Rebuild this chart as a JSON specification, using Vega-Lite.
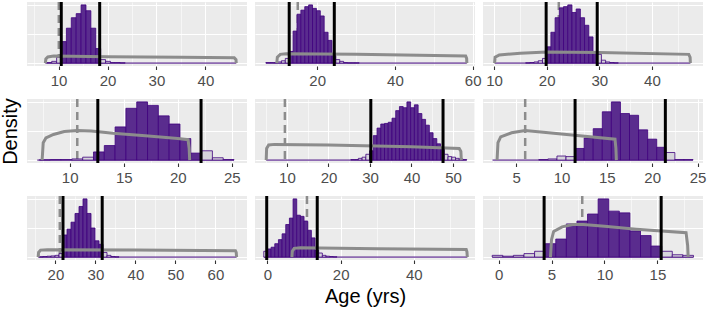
{
  "$schema": "https://vega.github.io/schema/vega-lite/v6.json",
  "padding": {"left": 0, "top": 0, "right": 2, "bottom": 0},
  "background": "#FFFFFF",
  "data": {"values": [
    {"panel":1,"kind":"bin","x":7.6,"x2":8.6,"y":0.01,"inside":false},
    {"panel":1,"kind":"bin","x":8.6,"x2":9.6,"y":0.03,"inside":false},
    {"panel":1,"kind":"bin","x":9.6,"x2":10.6,"y":0.1,"inside":false},
    {"panel":1,"kind":"bin","x":10.6,"x2":11.6,"y":0.37,"inside":true},
    {"panel":1,"kind":"bin","x":11.6,"x2":12.6,"y":0.6,"inside":true},
    {"panel":1,"kind":"bin","x":12.6,"x2":13.6,"y":0.78,"inside":true},
    {"panel":1,"kind":"bin","x":13.6,"x2":14.6,"y":0.85,"inside":true},
    {"panel":1,"kind":"bin","x":14.6,"x2":15.6,"y":1.0,"inside":true},
    {"panel":1,"kind":"bin","x":15.6,"x2":16.6,"y":0.9,"inside":true},
    {"panel":1,"kind":"bin","x":16.6,"x2":17.6,"y":0.6,"inside":true},
    {"panel":1,"kind":"bin","x":17.6,"x2":18.6,"y":0.25,"inside":true},
    {"panel":1,"kind":"bin","x":18.6,"x2":19.6,"y":0.06,"inside":false},
    {"panel":1,"kind":"bin","x":19.6,"x2":20.6,"y":0.03,"inside":false},
    {"panel":1,"kind":"bin","x":20.6,"x2":21.6,"y":0.01,"inside":false},
    {"panel":1,"kind":"bin","x":21.6,"x2":22.6,"y":0.01,"inside":false},
    {"panel":1,"kind":"bin","x":22.6,"x2":23.6,"y":0.005,"inside":false},
    {"panel":1,"kind":"prior","x":7.3,"y":0},
    {"panel":1,"kind":"prior","x":7.4,"y":0.07},
    {"panel":1,"kind":"prior","x":7.8,"y":0.105},
    {"panel":1,"kind":"prior","x":9,"y":0.12},
    {"panel":1,"kind":"prior","x":20,"y":0.11},
    {"panel":1,"kind":"prior","x":35,"y":0.1},
    {"panel":1,"kind":"prior","x":45.9,"y":0.09},
    {"panel":1,"kind":"prior","x":46.25,"y":0.06},
    {"panel":1,"kind":"prior","x":46.3,"y":0},
    {"panel":1,"kind":"ref","x":10.05},
    {"panel":1,"kind":"bound","x":10.55},
    {"panel":1,"kind":"bound","x":18.4},
    {"panel":1,"kind":"base","x":7.3,"x2":46.3,"y":0},

    {"panel":2,"kind":"bin","x":6.8,"x2":7.8,"y":0.01,"inside":false},
    {"panel":2,"kind":"bin","x":7.8,"x2":8.8,"y":0.01,"inside":false},
    {"panel":2,"kind":"bin","x":8.8,"x2":9.8,"y":0.01,"inside":false},
    {"panel":2,"kind":"bin","x":9.8,"x2":10.8,"y":0.02,"inside":false},
    {"panel":2,"kind":"bin","x":10.8,"x2":11.8,"y":0.04,"inside":false},
    {"panel":2,"kind":"bin","x":11.8,"x2":12.8,"y":0.08,"inside":false},
    {"panel":2,"kind":"bin","x":12.8,"x2":13.8,"y":0.2,"inside":true},
    {"panel":2,"kind":"bin","x":13.8,"x2":14.8,"y":0.55,"inside":true},
    {"panel":2,"kind":"bin","x":14.8,"x2":15.8,"y":0.84,"inside":true},
    {"panel":2,"kind":"bin","x":15.8,"x2":16.8,"y":0.91,"inside":true},
    {"panel":2,"kind":"bin","x":16.8,"x2":17.8,"y":0.97,"inside":true},
    {"panel":2,"kind":"bin","x":17.8,"x2":18.8,"y":1.0,"inside":true},
    {"panel":2,"kind":"bin","x":18.8,"x2":19.8,"y":0.94,"inside":true},
    {"panel":2,"kind":"bin","x":19.8,"x2":20.8,"y":0.9,"inside":true},
    {"panel":2,"kind":"bin","x":20.8,"x2":21.8,"y":0.81,"inside":true},
    {"panel":2,"kind":"bin","x":21.8,"x2":22.8,"y":0.53,"inside":true},
    {"panel":2,"kind":"bin","x":22.8,"x2":23.8,"y":0.39,"inside":true},
    {"panel":2,"kind":"bin","x":23.8,"x2":24.8,"y":0.13,"inside":true},
    {"panel":2,"kind":"bin","x":24.8,"x2":25.8,"y":0.06,"inside":false},
    {"panel":2,"kind":"bin","x":25.8,"x2":26.8,"y":0.03,"inside":false},
    {"panel":2,"kind":"bin","x":26.8,"x2":27.8,"y":0.01,"inside":false},
    {"panel":2,"kind":"bin","x":27.8,"x2":28.8,"y":0.005,"inside":false},
    {"panel":2,"kind":"bin","x":28.8,"x2":29.8,"y":0.005,"inside":false},
    {"panel":2,"kind":"bin","x":29.8,"x2":30.8,"y":0.005,"inside":false},
    {"panel":2,"kind":"prior","x":9.6,"y":0},
    {"panel":2,"kind":"prior","x":9.75,"y":0.1},
    {"panel":2,"kind":"prior","x":10.5,"y":0.15},
    {"panel":2,"kind":"prior","x":12,"y":0.16},
    {"panel":2,"kind":"prior","x":30,"y":0.15},
    {"panel":2,"kind":"prior","x":58.2,"y":0.12},
    {"panel":2,"kind":"prior","x":58.45,"y":0.08},
    {"panel":2,"kind":"prior","x":58.5,"y":0},
    {"panel":2,"kind":"ref","x":15.0},
    {"panel":2,"kind":"bound","x":12.8},
    {"panel":2,"kind":"bound","x":24.4},
    {"panel":2,"kind":"base","x":6.8,"x2":58.5,"y":0},

    {"panel":3,"kind":"bin","x":16.0,"x2":16.8,"y":0.005,"inside":false},
    {"panel":3,"kind":"bin","x":16.8,"x2":17.6,"y":0.01,"inside":false},
    {"panel":3,"kind":"bin","x":17.6,"x2":18.4,"y":0.02,"inside":false},
    {"panel":3,"kind":"bin","x":18.4,"x2":19.2,"y":0.04,"inside":false},
    {"panel":3,"kind":"bin","x":19.2,"x2":20.0,"y":0.08,"inside":false},
    {"panel":3,"kind":"bin","x":20.0,"x2":20.8,"y":0.28,"inside":true},
    {"panel":3,"kind":"bin","x":20.8,"x2":21.6,"y":0.53,"inside":true},
    {"panel":3,"kind":"bin","x":21.6,"x2":22.4,"y":0.78,"inside":true},
    {"panel":3,"kind":"bin","x":22.4,"x2":23.2,"y":0.95,"inside":true},
    {"panel":3,"kind":"bin","x":23.2,"x2":24.0,"y":0.97,"inside":true},
    {"panel":3,"kind":"bin","x":24.0,"x2":24.8,"y":1.0,"inside":true},
    {"panel":3,"kind":"bin","x":24.8,"x2":25.6,"y":0.87,"inside":true},
    {"panel":3,"kind":"bin","x":25.6,"x2":26.4,"y":0.93,"inside":true},
    {"panel":3,"kind":"bin","x":26.4,"x2":27.2,"y":0.78,"inside":true},
    {"panel":3,"kind":"bin","x":27.2,"x2":28.0,"y":0.65,"inside":true},
    {"panel":3,"kind":"bin","x":28.0,"x2":28.8,"y":0.45,"inside":true},
    {"panel":3,"kind":"bin","x":28.8,"x2":29.6,"y":0.2,"inside":true},
    {"panel":3,"kind":"bin","x":29.6,"x2":30.4,"y":0.15,"inside":false},
    {"panel":3,"kind":"bin","x":30.4,"x2":31.2,"y":0.05,"inside":false},
    {"panel":3,"kind":"bin","x":31.2,"x2":32.0,"y":0.02,"inside":false},
    {"panel":3,"kind":"bin","x":32.0,"x2":32.8,"y":0.01,"inside":false},
    {"panel":3,"kind":"bin","x":32.8,"x2":33.6,"y":0.005,"inside":false},
    {"panel":3,"kind":"prior","x":10.1,"y":0},
    {"panel":3,"kind":"prior","x":10.2,"y":0.1},
    {"panel":3,"kind":"prior","x":11,"y":0.14},
    {"panel":3,"kind":"prior","x":15,"y":0.17},
    {"panel":3,"kind":"prior","x":20,"y":0.19},
    {"panel":3,"kind":"prior","x":30,"y":0.18},
    {"panel":3,"kind":"prior","x":47.0,"y":0.15},
    {"panel":3,"kind":"prior","x":47.25,"y":0.1},
    {"panel":3,"kind":"prior","x":47.3,"y":0},
    {"panel":3,"kind":"ref","x":22.3},
    {"panel":3,"kind":"bound","x":19.9},
    {"panel":3,"kind":"bound","x":29.6},
    {"panel":3,"kind":"base","x":10.1,"x2":47.3,"y":0},

    {"panel":4,"kind":"bin","x":7.2,"x2":8.2,"y":0.005,"inside":false},
    {"panel":4,"kind":"bin","x":8.2,"x2":9.2,"y":0.01,"inside":false},
    {"panel":4,"kind":"bin","x":9.2,"x2":10.2,"y":0.01,"inside":false},
    {"panel":4,"kind":"bin","x":10.2,"x2":11.2,"y":0.02,"inside":false},
    {"panel":4,"kind":"bin","x":11.2,"x2":12.2,"y":0.05,"inside":false},
    {"panel":4,"kind":"bin","x":12.2,"x2":13.2,"y":0.14,"inside":true},
    {"panel":4,"kind":"bin","x":13.2,"x2":14.2,"y":0.25,"inside":true},
    {"panel":4,"kind":"bin","x":14.2,"x2":15.2,"y":0.57,"inside":true},
    {"panel":4,"kind":"bin","x":15.2,"x2":16.2,"y":0.89,"inside":true},
    {"panel":4,"kind":"bin","x":16.2,"x2":17.2,"y":1.0,"inside":true},
    {"panel":4,"kind":"bin","x":17.2,"x2":18.2,"y":0.94,"inside":true},
    {"panel":4,"kind":"bin","x":18.2,"x2":19.2,"y":0.76,"inside":true},
    {"panel":4,"kind":"bin","x":19.2,"x2":20.2,"y":0.62,"inside":true},
    {"panel":4,"kind":"bin","x":20.2,"x2":21.2,"y":0.37,"inside":true},
    {"panel":4,"kind":"bin","x":21.2,"x2":22.2,"y":0.12,"inside":true},
    {"panel":4,"kind":"bin","x":22.2,"x2":23.2,"y":0.16,"inside":false},
    {"panel":4,"kind":"bin","x":23.2,"x2":24.2,"y":0.04,"inside":false},
    {"panel":4,"kind":"bin","x":24.2,"x2":25.2,"y":0.01,"inside":false},
    {"panel":4,"kind":"prior","x":7.45,"y":0},
    {"panel":4,"kind":"prior","x":7.55,"y":0.3},
    {"panel":4,"kind":"prior","x":7.8,"y":0.38},
    {"panel":4,"kind":"prior","x":8.5,"y":0.44},
    {"panel":4,"kind":"prior","x":9.5,"y":0.49},
    {"panel":4,"kind":"prior","x":10.7,"y":0.51},
    {"panel":4,"kind":"prior","x":12,"y":0.5},
    {"panel":4,"kind":"prior","x":14,"y":0.46},
    {"panel":4,"kind":"prior","x":17,"y":0.42},
    {"panel":4,"kind":"prior","x":20,"y":0.37},
    {"panel":4,"kind":"prior","x":20.95,"y":0.35},
    {"panel":4,"kind":"prior","x":21.05,"y":0.2},
    {"panel":4,"kind":"prior","x":21.1,"y":0},
    {"panel":4,"kind":"ref","x":10.7},
    {"panel":4,"kind":"bound","x":12.6},
    {"panel":4,"kind":"bound","x":22.15},
    {"panel":4,"kind":"base","x":7.0,"x2":25.2,"y":0},

    {"panel":5,"kind":"bin","x":25.4,"x2":26.3,"y":0.01,"inside":false},
    {"panel":5,"kind":"bin","x":26.3,"x2":27.2,"y":0.01,"inside":false},
    {"panel":5,"kind":"bin","x":27.2,"x2":28.1,"y":0.03,"inside":false},
    {"panel":5,"kind":"bin","x":28.1,"x2":29.0,"y":0.05,"inside":false},
    {"panel":5,"kind":"bin","x":29.0,"x2":29.9,"y":0.1,"inside":false},
    {"panel":5,"kind":"bin","x":29.9,"x2":30.8,"y":0.16,"inside":true},
    {"panel":5,"kind":"bin","x":30.8,"x2":31.7,"y":0.42,"inside":true},
    {"panel":5,"kind":"bin","x":31.7,"x2":32.6,"y":0.55,"inside":true},
    {"panel":5,"kind":"bin","x":32.6,"x2":33.5,"y":0.62,"inside":true},
    {"panel":5,"kind":"bin","x":33.5,"x2":34.4,"y":0.63,"inside":true},
    {"panel":5,"kind":"bin","x":34.4,"x2":35.3,"y":0.65,"inside":true},
    {"panel":5,"kind":"bin","x":35.3,"x2":36.2,"y":0.72,"inside":true},
    {"panel":5,"kind":"bin","x":36.2,"x2":37.1,"y":0.85,"inside":true},
    {"panel":5,"kind":"bin","x":37.1,"x2":38.0,"y":0.92,"inside":true},
    {"panel":5,"kind":"bin","x":38.0,"x2":38.9,"y":0.9,"inside":true},
    {"panel":5,"kind":"bin","x":38.9,"x2":39.8,"y":1.0,"inside":true},
    {"panel":5,"kind":"bin","x":39.8,"x2":40.7,"y":0.9,"inside":true},
    {"panel":5,"kind":"bin","x":40.7,"x2":41.6,"y":0.95,"inside":true},
    {"panel":5,"kind":"bin","x":41.6,"x2":42.5,"y":0.8,"inside":true},
    {"panel":5,"kind":"bin","x":42.5,"x2":43.4,"y":0.7,"inside":true},
    {"panel":5,"kind":"bin","x":43.4,"x2":44.3,"y":0.6,"inside":true},
    {"panel":5,"kind":"bin","x":44.3,"x2":45.2,"y":0.47,"inside":true},
    {"panel":5,"kind":"bin","x":45.2,"x2":46.1,"y":0.37,"inside":true},
    {"panel":5,"kind":"bin","x":46.1,"x2":47.0,"y":0.28,"inside":true},
    {"panel":5,"kind":"bin","x":47.0,"x2":47.9,"y":0.2,"inside":true},
    {"panel":5,"kind":"bin","x":47.9,"x2":48.8,"y":0.1,"inside":false},
    {"panel":5,"kind":"bin","x":48.8,"x2":49.7,"y":0.06,"inside":false},
    {"panel":5,"kind":"bin","x":49.7,"x2":50.6,"y":0.05,"inside":false},
    {"panel":5,"kind":"bin","x":50.6,"x2":51.5,"y":0.03,"inside":false},
    {"panel":5,"kind":"bin","x":51.5,"x2":52.4,"y":0.02,"inside":false},
    {"panel":5,"kind":"bin","x":52.4,"x2":53.3,"y":0.01,"inside":false},
    {"panel":5,"kind":"prior","x":5.0,"y":0},
    {"panel":5,"kind":"prior","x":5.1,"y":0.2},
    {"panel":5,"kind":"prior","x":5.6,"y":0.26},
    {"panel":5,"kind":"prior","x":7,"y":0.27},
    {"panel":5,"kind":"prior","x":20,"y":0.26},
    {"panel":5,"kind":"prior","x":40,"y":0.23},
    {"panel":5,"kind":"prior","x":51.5,"y":0.2},
    {"panel":5,"kind":"prior","x":51.9,"y":0.15},
    {"panel":5,"kind":"prior","x":52,"y":0},
    {"panel":5,"kind":"ref","x":9.5},
    {"panel":5,"kind":"bound","x":30.2},
    {"panel":5,"kind":"bound","x":47.6},
    {"panel":5,"kind":"base","x":5.0,"x2":53.3,"y":0},

    {"panel":6,"kind":"bin","x":7.5,"x2":8.5,"y":0.01,"inside":false},
    {"panel":6,"kind":"bin","x":8.5,"x2":9.5,"y":0.02,"inside":false},
    {"panel":6,"kind":"bin","x":9.5,"x2":10.5,"y":0.07,"inside":false},
    {"panel":6,"kind":"bin","x":10.5,"x2":11.5,"y":0.06,"inside":false},
    {"panel":6,"kind":"bin","x":11.5,"x2":12.5,"y":0.2,"inside":true},
    {"panel":6,"kind":"bin","x":12.5,"x2":13.5,"y":0.38,"inside":true},
    {"panel":6,"kind":"bin","x":13.5,"x2":14.5,"y":0.54,"inside":true},
    {"panel":6,"kind":"bin","x":14.5,"x2":15.5,"y":0.83,"inside":true},
    {"panel":6,"kind":"bin","x":15.5,"x2":16.5,"y":1.0,"inside":true},
    {"panel":6,"kind":"bin","x":16.5,"x2":17.5,"y":0.8,"inside":true},
    {"panel":6,"kind":"bin","x":17.5,"x2":18.5,"y":0.77,"inside":true},
    {"panel":6,"kind":"bin","x":18.5,"x2":19.5,"y":0.52,"inside":true},
    {"panel":6,"kind":"bin","x":19.5,"x2":20.5,"y":0.36,"inside":true},
    {"panel":6,"kind":"bin","x":20.5,"x2":21.5,"y":0.22,"inside":true},
    {"panel":6,"kind":"bin","x":21.5,"x2":22.5,"y":0.13,"inside":false},
    {"panel":6,"kind":"bin","x":22.5,"x2":23.5,"y":0.01,"inside":false},
    {"panel":6,"kind":"bin","x":23.5,"x2":24.5,"y":0.01,"inside":false},
    {"panel":6,"kind":"prior","x":2.9,"y":0},
    {"panel":6,"kind":"prior","x":3.0,"y":0.3},
    {"panel":6,"kind":"prior","x":3.3,"y":0.4},
    {"panel":6,"kind":"prior","x":4.5,"y":0.47},
    {"panel":6,"kind":"prior","x":6,"y":0.51},
    {"panel":6,"kind":"prior","x":8,"y":0.48},
    {"panel":6,"kind":"prior","x":12,"y":0.42},
    {"panel":6,"kind":"prior","x":15.9,"y":0.36},
    {"panel":6,"kind":"prior","x":16.0,"y":0.2},
    {"panel":6,"kind":"prior","x":16.05,"y":0},
    {"panel":6,"kind":"ref","x":6.0},
    {"panel":6,"kind":"bound","x":11.5},
    {"panel":6,"kind":"bound","x":21.45},
    {"panel":6,"kind":"base","x":2.4,"x2":24.5,"y":0},

    {"panel":7,"kind":"bin","x":15.9,"x2":16.9,"y":0.005,"inside":false},
    {"panel":7,"kind":"bin","x":16.9,"x2":17.9,"y":0.01,"inside":false},
    {"panel":7,"kind":"bin","x":17.9,"x2":18.9,"y":0.015,"inside":false},
    {"panel":7,"kind":"bin","x":18.9,"x2":19.9,"y":0.02,"inside":false},
    {"panel":7,"kind":"bin","x":19.9,"x2":20.9,"y":0.03,"inside":false},
    {"panel":7,"kind":"bin","x":20.9,"x2":21.9,"y":0.06,"inside":false},
    {"panel":7,"kind":"bin","x":21.9,"x2":22.9,"y":0.38,"inside":true},
    {"panel":7,"kind":"bin","x":22.9,"x2":23.9,"y":0.48,"inside":true},
    {"panel":7,"kind":"bin","x":23.9,"x2":24.9,"y":0.6,"inside":true},
    {"panel":7,"kind":"bin","x":24.9,"x2":25.9,"y":0.75,"inside":true},
    {"panel":7,"kind":"bin","x":25.9,"x2":26.9,"y":0.87,"inside":true},
    {"panel":7,"kind":"bin","x":26.9,"x2":27.9,"y":1.0,"inside":true},
    {"panel":7,"kind":"bin","x":27.9,"x2":28.9,"y":0.75,"inside":true},
    {"panel":7,"kind":"bin","x":28.9,"x2":29.9,"y":0.5,"inside":true},
    {"panel":7,"kind":"bin","x":29.9,"x2":30.9,"y":0.28,"inside":true},
    {"panel":7,"kind":"bin","x":30.9,"x2":31.9,"y":0.22,"inside":true},
    {"panel":7,"kind":"bin","x":31.9,"x2":32.9,"y":0.08,"inside":false},
    {"panel":7,"kind":"bin","x":32.9,"x2":33.9,"y":0.03,"inside":false},
    {"panel":7,"kind":"bin","x":33.9,"x2":34.9,"y":0.01,"inside":false},
    {"panel":7,"kind":"bin","x":34.9,"x2":35.9,"y":0.005,"inside":false},
    {"panel":7,"kind":"prior","x":15.7,"y":0},
    {"panel":7,"kind":"prior","x":15.8,"y":0.08},
    {"panel":7,"kind":"prior","x":16.3,"y":0.12},
    {"panel":7,"kind":"prior","x":18,"y":0.125},
    {"panel":7,"kind":"prior","x":40,"y":0.12},
    {"panel":7,"kind":"prior","x":65,"y":0.11},
    {"panel":7,"kind":"prior","x":65.2,"y":0.08},
    {"panel":7,"kind":"prior","x":65.3,"y":0},
    {"panel":7,"kind":"ref","x":21.1},
    {"panel":7,"kind":"bound","x":21.9},
    {"panel":7,"kind":"bound","x":31.7},
    {"panel":7,"kind":"base","x":15.7,"x2":65.3,"y":0},

    {"panel":8,"kind":"bin","x":-1,"x2":0,"y":0.1,"inside":false},
    {"panel":8,"kind":"bin","x":0,"x2":1,"y":0.14,"inside":true},
    {"panel":8,"kind":"bin","x":1,"x2":2,"y":0.17,"inside":true},
    {"panel":8,"kind":"bin","x":2,"x2":3,"y":0.23,"inside":true},
    {"panel":8,"kind":"bin","x":3,"x2":4,"y":0.3,"inside":true},
    {"panel":8,"kind":"bin","x":4,"x2":5,"y":0.4,"inside":true},
    {"panel":8,"kind":"bin","x":5,"x2":6,"y":0.56,"inside":true},
    {"panel":8,"kind":"bin","x":6,"x2":7,"y":0.67,"inside":true},
    {"panel":8,"kind":"bin","x":7,"x2":8,"y":1.0,"inside":true},
    {"panel":8,"kind":"bin","x":8,"x2":9,"y":0.72,"inside":true},
    {"panel":8,"kind":"bin","x":9,"x2":10,"y":0.7,"inside":true},
    {"panel":8,"kind":"bin","x":10,"x2":11,"y":0.62,"inside":true},
    {"panel":8,"kind":"bin","x":11,"x2":12,"y":0.46,"inside":true},
    {"panel":8,"kind":"bin","x":12,"x2":13,"y":0.33,"inside":true},
    {"panel":8,"kind":"bin","x":13,"x2":14,"y":0.12,"inside":true},
    {"panel":8,"kind":"bin","x":14,"x2":15,"y":0.07,"inside":false},
    {"panel":8,"kind":"bin","x":15,"x2":16,"y":0.03,"inside":false},
    {"panel":8,"kind":"bin","x":16,"x2":17,"y":0.015,"inside":false},
    {"panel":8,"kind":"bin","x":17,"x2":18,"y":0.01,"inside":false},
    {"panel":8,"kind":"bin","x":18,"x2":19,"y":0.005,"inside":false},
    {"panel":8,"kind":"prior","x":6.7,"y":0},
    {"panel":8,"kind":"prior","x":6.8,"y":0.1},
    {"panel":8,"kind":"prior","x":7.3,"y":0.15},
    {"panel":8,"kind":"prior","x":9,"y":0.16},
    {"panel":8,"kind":"prior","x":30,"y":0.145},
    {"panel":8,"kind":"prior","x":54.3,"y":0.13},
    {"panel":8,"kind":"prior","x":54.5,"y":0.09},
    {"panel":8,"kind":"prior","x":54.6,"y":0},
    {"panel":8,"kind":"ref","x":10.8},
    {"panel":8,"kind":"bound","x":-0.2},
    {"panel":8,"kind":"bound","x":13.6},
    {"panel":8,"kind":"base","x":-1,"x2":54.6,"y":0},

    {"panel":9,"kind":"bin","x":-0.6,"x2":0.4,"y":0.03,"inside":false},
    {"panel":9,"kind":"bin","x":0.4,"x2":1.4,"y":0.015,"inside":false},
    {"panel":9,"kind":"bin","x":1.4,"x2":2.4,"y":0.03,"inside":false},
    {"panel":9,"kind":"bin","x":2.4,"x2":3.4,"y":0.06,"inside":false},
    {"panel":9,"kind":"bin","x":3.4,"x2":4.4,"y":0.1,"inside":false},
    {"panel":9,"kind":"bin","x":4.4,"x2":5.4,"y":0.23,"inside":true},
    {"panel":9,"kind":"bin","x":5.4,"x2":6.4,"y":0.31,"inside":true},
    {"panel":9,"kind":"bin","x":6.4,"x2":7.4,"y":0.57,"inside":true},
    {"panel":9,"kind":"bin","x":7.4,"x2":8.4,"y":0.62,"inside":true},
    {"panel":9,"kind":"bin","x":8.4,"x2":9.4,"y":0.74,"inside":true},
    {"panel":9,"kind":"bin","x":9.4,"x2":10.4,"y":1.0,"inside":true},
    {"panel":9,"kind":"bin","x":10.4,"x2":11.4,"y":0.79,"inside":true},
    {"panel":9,"kind":"bin","x":11.4,"x2":12.4,"y":0.76,"inside":true},
    {"panel":9,"kind":"bin","x":12.4,"x2":13.4,"y":0.45,"inside":true},
    {"panel":9,"kind":"bin","x":13.4,"x2":14.4,"y":0.37,"inside":true},
    {"panel":9,"kind":"bin","x":14.4,"x2":15.4,"y":0.19,"inside":true},
    {"panel":9,"kind":"bin","x":15.4,"x2":16.4,"y":0.1,"inside":false},
    {"panel":9,"kind":"bin","x":16.4,"x2":17.4,"y":0.04,"inside":false},
    {"panel":9,"kind":"bin","x":17.4,"x2":18.4,"y":0.03,"inside":false},
    {"panel":9,"kind":"prior","x":4.9,"y":0},
    {"panel":9,"kind":"prior","x":5.0,"y":0.3},
    {"panel":9,"kind":"prior","x":5.2,"y":0.44},
    {"panel":9,"kind":"prior","x":6,"y":0.52},
    {"panel":9,"kind":"prior","x":7,"y":0.56},
    {"panel":9,"kind":"prior","x":8,"y":0.56},
    {"panel":9,"kind":"prior","x":10,"y":0.53},
    {"panel":9,"kind":"prior","x":13,"y":0.48},
    {"panel":9,"kind":"prior","x":17.7,"y":0.42},
    {"panel":9,"kind":"prior","x":17.85,"y":0.2},
    {"panel":9,"kind":"prior","x":17.9,"y":0},
    {"panel":9,"kind":"ref","x":7.9},
    {"panel":9,"kind":"bound","x":4.3},
    {"panel":9,"kind":"bound","x":15.35},
    {"panel":9,"kind":"base","x":-0.6,"x2":18.4,"y":0}
  ]},
  "columns": 3,
  "align": "each",
  "bounds": "flush",
  "spacing": {"row": 33, "column": 8},
  "concat": [
    {
      "width": 220, "height": 64,
      "transform": [{"filter": "datum.panel === 1"}],
      "encoding": {"x": {"field": "x", "type": "quantitative", "title": null,
        "scale": {"domain": [3.55, 48.5], "nice": false, "zero": false},
        "axis": {"values": [5, 10, 15, 20, 25, 30, 35, 40, 45],
          "labelExpr": "datum.value % 10 === 0 ? datum.label : ''",
          "tickOpacity": {"condition": {"test": "datum.value % 10 === 0", "value": 1}, "value": 0},
          "gridWidth": {"condition": {"test": "datum.value % 10 === 0", "value": 1.1}, "value": 0.55}}}},
      "layer": [
        {"transform": [{"filter": "datum.kind === 'ref'"}], "mark": {"type": "rule", "color": "#8C8C8C", "strokeWidth": 2.5, "strokeDash": [8, 5]}, "encoding": {}},
        {"transform": [{"filter": "datum.kind === 'base'"}], "mark": {"type": "rule", "color": "#3F007D", "strokeWidth": 1}, "encoding": {"x2": {"field": "x2"}, "y": {"field": "y", "type": "quantitative", "title": null, "scale": {"domain": [-0.05, 1.05], "nice": false, "zero": false}}}},
        {"transform": [{"filter": "datum.kind === 'bin'"}], "mark": {"type": "rect", "stroke": "#3F007D", "strokeWidth": 0.8}, "encoding": {"x2": {"field": "x2"}, "y": {"field": "y", "type": "quantitative", "title": null, "scale": {"domain": [-0.05, 1.05], "nice": false, "zero": false}}, "y2": {"datum": 0}, "fill": {"condition": {"test": "datum.inside", "value": "#5A2C8E"}, "value": "#D5D4DA"}}},
        {"transform": [{"filter": "datum.kind === 'prior'"}], "mark": {"type": "line", "color": "#8C8C8C", "strokeWidth": 3}, "encoding": {"y": {"field": "y", "type": "quantitative", "title": null, "scale": {"domain": [-0.05, 1.05], "nice": false, "zero": false}}}},
        {"transform": [{"filter": "datum.kind === 'bound'"}], "mark": {"type": "rule", "color": "#000000", "strokeWidth": 3}, "encoding": {}}
      ]
    },
    {
      "width": 220, "height": 64,
      "transform": [{"filter": "datum.panel === 2"}],
      "encoding": {"x": {"field": "x", "type": "quantitative", "title": null,
        "scale": {"domain": [4.0, 60.6], "nice": false, "zero": false},
        "axis": {"values": [10, 20, 30, 40, 50, 60],
          "labelExpr": "datum.value % 20 === 0 ? datum.label : ''",
          "tickOpacity": {"condition": {"test": "datum.value % 20 === 0", "value": 1}, "value": 0},
          "gridWidth": {"condition": {"test": "datum.value % 20 === 0", "value": 1.1}, "value": 0.55}}}},
      "layer": [
        {"transform": [{"filter": "datum.kind === 'ref'"}], "mark": {"type": "rule", "color": "#8C8C8C", "strokeWidth": 2.5, "strokeDash": [8, 5]}, "encoding": {}},
        {"transform": [{"filter": "datum.kind === 'base'"}], "mark": {"type": "rule", "color": "#3F007D", "strokeWidth": 1}, "encoding": {"x2": {"field": "x2"}, "y": {"field": "y", "type": "quantitative", "title": null, "scale": {"domain": [-0.05, 1.05], "nice": false, "zero": false}}}},
        {"transform": [{"filter": "datum.kind === 'bin'"}], "mark": {"type": "rect", "stroke": "#3F007D", "strokeWidth": 0.8}, "encoding": {"x2": {"field": "x2"}, "y": {"field": "y", "type": "quantitative", "title": null, "scale": {"domain": [-0.05, 1.05], "nice": false, "zero": false}}, "y2": {"datum": 0}, "fill": {"condition": {"test": "datum.inside", "value": "#5A2C8E"}, "value": "#D5D4DA"}}},
        {"transform": [{"filter": "datum.kind === 'prior'"}], "mark": {"type": "line", "color": "#8C8C8C", "strokeWidth": 3}, "encoding": {"y": {"field": "y", "type": "quantitative", "title": null, "scale": {"domain": [-0.05, 1.05], "nice": false, "zero": false}}}},
        {"transform": [{"filter": "datum.kind === 'bound'"}], "mark": {"type": "rule", "color": "#000000", "strokeWidth": 3}, "encoding": {}}
      ]
    },
    {
      "width": 220, "height": 64,
      "transform": [{"filter": "datum.panel === 3"}],
      "encoding": {"x": {"field": "x", "type": "quantitative", "title": null,
        "scale": {"domain": [7.9, 49.7], "nice": false, "zero": false},
        "axis": {"values": [10, 15, 20, 25, 30, 35, 40, 45],
          "labelExpr": "datum.value % 10 === 0 ? datum.label : ''",
          "tickOpacity": {"condition": {"test": "datum.value % 10 === 0", "value": 1}, "value": 0},
          "gridWidth": {"condition": {"test": "datum.value % 10 === 0", "value": 1.1}, "value": 0.55}}}},
      "layer": [
        {"transform": [{"filter": "datum.kind === 'ref'"}], "mark": {"type": "rule", "color": "#8C8C8C", "strokeWidth": 2.5, "strokeDash": [8, 5]}, "encoding": {}},
        {"transform": [{"filter": "datum.kind === 'base'"}], "mark": {"type": "rule", "color": "#3F007D", "strokeWidth": 1}, "encoding": {"x2": {"field": "x2"}, "y": {"field": "y", "type": "quantitative", "title": null, "scale": {"domain": [-0.05, 1.05], "nice": false, "zero": false}}}},
        {"transform": [{"filter": "datum.kind === 'bin'"}], "mark": {"type": "rect", "stroke": "#3F007D", "strokeWidth": 0.8}, "encoding": {"x2": {"field": "x2"}, "y": {"field": "y", "type": "quantitative", "title": null, "scale": {"domain": [-0.05, 1.05], "nice": false, "zero": false}}, "y2": {"datum": 0}, "fill": {"condition": {"test": "datum.inside", "value": "#5A2C8E"}, "value": "#D5D4DA"}}},
        {"transform": [{"filter": "datum.kind === 'prior'"}], "mark": {"type": "line", "color": "#8C8C8C", "strokeWidth": 3}, "encoding": {"y": {"field": "y", "type": "quantitative", "title": null, "scale": {"domain": [-0.05, 1.05], "nice": false, "zero": false}}}},
        {"transform": [{"filter": "datum.kind === 'bound'"}], "mark": {"type": "rule", "color": "#000000", "strokeWidth": 3}, "encoding": {}}
      ]
    },
    {
      "width": 220, "height": 64,
      "transform": [{"filter": "datum.panel === 4"}],
      "encoding": {"x": {"field": "x", "type": "quantitative", "title": null,
        "scale": {"domain": [6.05, 26.4], "nice": false, "zero": false},
        "axis": {"values": [7.5, 10, 12.5, 15, 17.5, 20, 22.5, 25],
          "labelExpr": "datum.value % 5 === 0 ? datum.label : ''",
          "tickOpacity": {"condition": {"test": "datum.value % 5 === 0", "value": 1}, "value": 0},
          "gridWidth": {"condition": {"test": "datum.value % 5 === 0", "value": 1.1}, "value": 0.55}}}},
      "layer": [
        {"transform": [{"filter": "datum.kind === 'ref'"}], "mark": {"type": "rule", "color": "#8C8C8C", "strokeWidth": 2.5, "strokeDash": [8, 5]}, "encoding": {}},
        {"transform": [{"filter": "datum.kind === 'base'"}], "mark": {"type": "rule", "color": "#3F007D", "strokeWidth": 1}, "encoding": {"x2": {"field": "x2"}, "y": {"field": "y", "type": "quantitative", "title": "Density", "scale": {"domain": [-0.05, 1.05], "nice": false, "zero": false}}}},
        {"transform": [{"filter": "datum.kind === 'bin'"}], "mark": {"type": "rect", "stroke": "#3F007D", "strokeWidth": 0.8}, "encoding": {"x2": {"field": "x2"}, "y": {"field": "y", "type": "quantitative", "title": "Density", "scale": {"domain": [-0.05, 1.05], "nice": false, "zero": false}}, "y2": {"datum": 0}, "fill": {"condition": {"test": "datum.inside", "value": "#5A2C8E"}, "value": "#D5D4DA"}}},
        {"transform": [{"filter": "datum.kind === 'prior'"}], "mark": {"type": "line", "color": "#8C8C8C", "strokeWidth": 3}, "encoding": {"y": {"field": "y", "type": "quantitative", "title": "Density", "scale": {"domain": [-0.05, 1.05], "nice": false, "zero": false}}}},
        {"transform": [{"filter": "datum.kind === 'bound'"}], "mark": {"type": "rule", "color": "#000000", "strokeWidth": 3}, "encoding": {}}
      ]
    },
    {
      "width": 220, "height": 64,
      "transform": [{"filter": "datum.panel === 5"}],
      "encoding": {"x": {"field": "x", "type": "quantitative", "title": null,
        "scale": {"domain": [2.3, 55.3], "nice": false, "zero": false},
        "axis": {"values": [5, 10, 15, 20, 25, 30, 35, 40, 45, 50, 55],
          "labelExpr": "datum.value % 10 === 0 ? datum.label : ''",
          "tickOpacity": {"condition": {"test": "datum.value % 10 === 0", "value": 1}, "value": 0},
          "gridWidth": {"condition": {"test": "datum.value % 10 === 0", "value": 1.1}, "value": 0.55}}}},
      "layer": [
        {"transform": [{"filter": "datum.kind === 'ref'"}], "mark": {"type": "rule", "color": "#8C8C8C", "strokeWidth": 2.5, "strokeDash": [8, 5]}, "encoding": {}},
        {"transform": [{"filter": "datum.kind === 'base'"}], "mark": {"type": "rule", "color": "#3F007D", "strokeWidth": 1}, "encoding": {"x2": {"field": "x2"}, "y": {"field": "y", "type": "quantitative", "title": null, "scale": {"domain": [-0.05, 1.05], "nice": false, "zero": false}}}},
        {"transform": [{"filter": "datum.kind === 'bin'"}], "mark": {"type": "rect", "stroke": "#3F007D", "strokeWidth": 0.8}, "encoding": {"x2": {"field": "x2"}, "y": {"field": "y", "type": "quantitative", "title": null, "scale": {"domain": [-0.05, 1.05], "nice": false, "zero": false}}, "y2": {"datum": 0}, "fill": {"condition": {"test": "datum.inside", "value": "#5A2C8E"}, "value": "#D5D4DA"}}},
        {"transform": [{"filter": "datum.kind === 'prior'"}], "mark": {"type": "line", "color": "#8C8C8C", "strokeWidth": 3}, "encoding": {"y": {"field": "y", "type": "quantitative", "title": null, "scale": {"domain": [-0.05, 1.05], "nice": false, "zero": false}}}},
        {"transform": [{"filter": "datum.kind === 'bound'"}], "mark": {"type": "rule", "color": "#000000", "strokeWidth": 3}, "encoding": {}}
      ]
    },
    {
      "width": 220, "height": 64,
      "transform": [{"filter": "datum.panel === 6"}],
      "encoding": {"x": {"field": "x", "type": "quantitative", "title": null,
        "scale": {"domain": [1.35, 25.6], "nice": false, "zero": false},
        "axis": {"values": [2.5, 5, 7.5, 10, 12.5, 15, 17.5, 20, 22.5, 25],
          "labelExpr": "datum.value % 5 === 0 ? datum.label : ''",
          "tickOpacity": {"condition": {"test": "datum.value % 5 === 0", "value": 1}, "value": 0},
          "gridWidth": {"condition": {"test": "datum.value % 5 === 0", "value": 1.1}, "value": 0.55}}}},
      "layer": [
        {"transform": [{"filter": "datum.kind === 'ref'"}], "mark": {"type": "rule", "color": "#8C8C8C", "strokeWidth": 2.5, "strokeDash": [8, 5]}, "encoding": {}},
        {"transform": [{"filter": "datum.kind === 'base'"}], "mark": {"type": "rule", "color": "#3F007D", "strokeWidth": 1}, "encoding": {"x2": {"field": "x2"}, "y": {"field": "y", "type": "quantitative", "title": null, "scale": {"domain": [-0.05, 1.05], "nice": false, "zero": false}}}},
        {"transform": [{"filter": "datum.kind === 'bin'"}], "mark": {"type": "rect", "stroke": "#3F007D", "strokeWidth": 0.8}, "encoding": {"x2": {"field": "x2"}, "y": {"field": "y", "type": "quantitative", "title": null, "scale": {"domain": [-0.05, 1.05], "nice": false, "zero": false}}, "y2": {"datum": 0}, "fill": {"condition": {"test": "datum.inside", "value": "#5A2C8E"}, "value": "#D5D4DA"}}},
        {"transform": [{"filter": "datum.kind === 'prior'"}], "mark": {"type": "line", "color": "#8C8C8C", "strokeWidth": 3}, "encoding": {"y": {"field": "y", "type": "quantitative", "title": null, "scale": {"domain": [-0.05, 1.05], "nice": false, "zero": false}}}},
        {"transform": [{"filter": "datum.kind === 'bound'"}], "mark": {"type": "rule", "color": "#000000", "strokeWidth": 3}, "encoding": {}}
      ]
    },
    {
      "width": 220, "height": 64,
      "transform": [{"filter": "datum.panel === 7"}],
      "encoding": {"x": {"field": "x", "type": "quantitative", "title": null,
        "scale": {"domain": [12.9, 67.9], "nice": false, "zero": false},
        "axis": {"values": [15, 20, 25, 30, 35, 40, 45, 50, 55, 60, 65],
          "labelExpr": "datum.value % 10 === 0 ? datum.label : ''",
          "tickOpacity": {"condition": {"test": "datum.value % 10 === 0", "value": 1}, "value": 0},
          "gridWidth": {"condition": {"test": "datum.value % 10 === 0", "value": 1.1}, "value": 0.55}}}},
      "layer": [
        {"transform": [{"filter": "datum.kind === 'ref'"}], "mark": {"type": "rule", "color": "#8C8C8C", "strokeWidth": 2.5, "strokeDash": [8, 5]}, "encoding": {}},
        {"transform": [{"filter": "datum.kind === 'base'"}], "mark": {"type": "rule", "color": "#3F007D", "strokeWidth": 1}, "encoding": {"x2": {"field": "x2"}, "y": {"field": "y", "type": "quantitative", "title": null, "scale": {"domain": [-0.05, 1.05], "nice": false, "zero": false}}}},
        {"transform": [{"filter": "datum.kind === 'bin'"}], "mark": {"type": "rect", "stroke": "#3F007D", "strokeWidth": 0.8}, "encoding": {"x2": {"field": "x2"}, "y": {"field": "y", "type": "quantitative", "title": null, "scale": {"domain": [-0.05, 1.05], "nice": false, "zero": false}}, "y2": {"datum": 0}, "fill": {"condition": {"test": "datum.inside", "value": "#5A2C8E"}, "value": "#D5D4DA"}}},
        {"transform": [{"filter": "datum.kind === 'prior'"}], "mark": {"type": "line", "color": "#8C8C8C", "strokeWidth": 3}, "encoding": {"y": {"field": "y", "type": "quantitative", "title": null, "scale": {"domain": [-0.05, 1.05], "nice": false, "zero": false}}}},
        {"transform": [{"filter": "datum.kind === 'bound'"}], "mark": {"type": "rule", "color": "#000000", "strokeWidth": 3}, "encoding": {}}
      ]
    },
    {
      "width": 220, "height": 64,
      "transform": [{"filter": "datum.panel === 8"}],
      "encoding": {"x": {"field": "x", "type": "quantitative", "title": "Age (yrs)",
        "scale": {"domain": [-3.4, 56.7], "nice": false, "zero": false},
        "axis": {"values": [0, 10, 20, 30, 40, 50],
          "labelExpr": "datum.value % 20 === 0 ? datum.label : ''",
          "tickOpacity": {"condition": {"test": "datum.value % 20 === 0", "value": 1}, "value": 0},
          "gridWidth": {"condition": {"test": "datum.value % 20 === 0", "value": 1.1}, "value": 0.55}}}},
      "layer": [
        {"transform": [{"filter": "datum.kind === 'ref'"}], "mark": {"type": "rule", "color": "#8C8C8C", "strokeWidth": 2.5, "strokeDash": [8, 5]}, "encoding": {}},
        {"transform": [{"filter": "datum.kind === 'base'"}], "mark": {"type": "rule", "color": "#3F007D", "strokeWidth": 1}, "encoding": {"x2": {"field": "x2"}, "y": {"field": "y", "type": "quantitative", "title": null, "scale": {"domain": [-0.05, 1.05], "nice": false, "zero": false}}}},
        {"transform": [{"filter": "datum.kind === 'bin'"}], "mark": {"type": "rect", "stroke": "#3F007D", "strokeWidth": 0.8}, "encoding": {"x2": {"field": "x2"}, "y": {"field": "y", "type": "quantitative", "title": null, "scale": {"domain": [-0.05, 1.05], "nice": false, "zero": false}}, "y2": {"datum": 0}, "fill": {"condition": {"test": "datum.inside", "value": "#5A2C8E"}, "value": "#D5D4DA"}}},
        {"transform": [{"filter": "datum.kind === 'prior'"}], "mark": {"type": "line", "color": "#8C8C8C", "strokeWidth": 3}, "encoding": {"y": {"field": "y", "type": "quantitative", "title": null, "scale": {"domain": [-0.05, 1.05], "nice": false, "zero": false}}}},
        {"transform": [{"filter": "datum.kind === 'bound'"}], "mark": {"type": "rule", "color": "#000000", "strokeWidth": 3}, "encoding": {}}
      ]
    },
    {
      "width": 220, "height": 64,
      "transform": [{"filter": "datum.panel === 9"}],
      "encoding": {"x": {"field": "x", "type": "quantitative", "title": null,
        "scale": {"domain": [-1.47, 19.3], "nice": false, "zero": false},
        "axis": {"values": [0, 2.5, 5, 7.5, 10, 12.5, 15, 17.5],
          "labelExpr": "datum.value % 5 === 0 ? datum.label : ''",
          "tickOpacity": {"condition": {"test": "datum.value % 5 === 0", "value": 1}, "value": 0},
          "gridWidth": {"condition": {"test": "datum.value % 5 === 0", "value": 1.1}, "value": 0.55}}}},
      "layer": [
        {"transform": [{"filter": "datum.kind === 'ref'"}], "mark": {"type": "rule", "color": "#8C8C8C", "strokeWidth": 2.5, "strokeDash": [8, 5]}, "encoding": {}},
        {"transform": [{"filter": "datum.kind === 'base'"}], "mark": {"type": "rule", "color": "#3F007D", "strokeWidth": 1}, "encoding": {"x2": {"field": "x2"}, "y": {"field": "y", "type": "quantitative", "title": null, "scale": {"domain": [-0.05, 1.05], "nice": false, "zero": false}}}},
        {"transform": [{"filter": "datum.kind === 'bin'"}], "mark": {"type": "rect", "stroke": "#3F007D", "strokeWidth": 0.8}, "encoding": {"x2": {"field": "x2"}, "y": {"field": "y", "type": "quantitative", "title": null, "scale": {"domain": [-0.05, 1.05], "nice": false, "zero": false}}, "y2": {"datum": 0}, "fill": {"condition": {"test": "datum.inside", "value": "#5A2C8E"}, "value": "#D5D4DA"}}},
        {"transform": [{"filter": "datum.kind === 'prior'"}], "mark": {"type": "line", "color": "#8C8C8C", "strokeWidth": 3}, "encoding": {"y": {"field": "y", "type": "quantitative", "title": null, "scale": {"domain": [-0.05, 1.05], "nice": false, "zero": false}}}},
        {"transform": [{"filter": "datum.kind === 'bound'"}], "mark": {"type": "rule", "color": "#000000", "strokeWidth": 3}, "encoding": {}}
      ]
    }
  ],
  "config": {
    "font": "Liberation Sans",
    "view": {"fill": "#EBEBEB", "stroke": null},
    "axis": {
      "domain": false,
      "grid": true,
      "gridColor": "#FFFFFF",
      "labelFont": "Liberation Sans",
      "labelFontSize": 15,
      "labelColor": "#4D4D4D",
      "tickColor": "#333333",
      "tickSize": 3.5,
      "tickWidth": 1.1,
      "labelPadding": 4,
      "labelOverlap": false,
      "labelFlush": false,
      "titleFont": "Liberation Sans",
      "titleFontSize": 20,
      "titleFontWeight": "normal",
      "titleColor": "#000000"
    },
    "axisX": {"titlePadding": 4},
    "axisY": {
      "labels": false,
      "ticks": false,
      "values": [0, 0.125, 0.25, 0.375, 0.5, 0.625, 0.75, 0.875, 1],
      "gridWidth": {"condition": {"test": "datum.value * 4 % 1 === 0", "value": 1.1}, "value": 0.55},
      "titlePadding": 7
    }
  }
}
